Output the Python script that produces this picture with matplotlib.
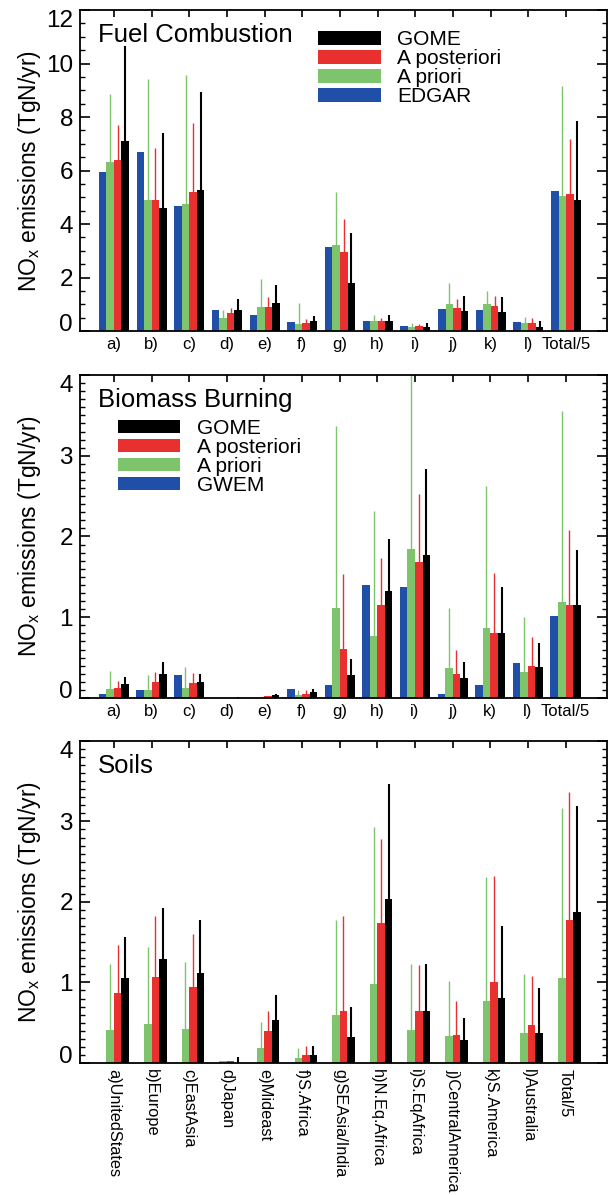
import matplotlib
matplotlib.use('Agg')
import matplotlib.pyplot as plt
import numpy as np
from matplotlib.patches import Patch
from matplotlib.ticker import MultipleLocator

plt.rcParams['font.family'] = ['Liberation Sans', 'DejaVu Sans']
plt.rcParams['mathtext.fontset'] = 'custom'
plt.rcParams['mathtext.rm'] = 'Liberation Sans'
plt.rcParams['mathtext.it'] = 'Liberation Sans:italic'

# ---------------- data ----------------
labels_short = ['a)', 'b)', 'c)', 'd)', 'e)', 'f)', 'g)', 'h)', 'i)', 'j)', 'k)', 'l)', 'Total/5']
labels_long = ['a)UnitedStates', 'b)Europe', 'c)EastAsia', 'd)Japan', 'e)Mideast', 'f)S.Africa',
               'g)SEAsia/India', 'h)N.Eq.Africa', 'i)S.EqAfrica', 'j)CentralAmerica',
               'k)S.America', 'l)Australia', 'Total/5']

# Fuel combustion (TgN/yr); *_top = upper end of error bar
fuel_edgar = [5.95, 6.69, 4.69, 0.79, 0.60, 0.35, 3.14, 0.39, 0.19, 0.82, 0.79, 0.35, 5.22]
fuel_apriori = [6.31, 4.90, 4.75, 0.50, 0.91, 0.25, 3.22, 0.37, 0.16, 1.00, 1.00, 0.29, 5.06]
fuel_apriori_top = [8.85, 9.41, 9.56, 0.79, 1.94, 1.04, 5.19, 0.60, 0.31, 1.79, 1.50, 0.54, 9.16]
fuel_apost = [6.40, 4.88, 5.19, 0.66, 0.91, 0.31, 2.96, 0.37, 0.19, 0.87, 0.94, 0.29, 5.12]
fuel_apost_top = [7.70, 6.85, 7.79, 0.85, 1.29, 0.44, 4.19, 0.50, 0.26, 1.19, 1.32, 0.47, 7.19]
fuel_gome = [7.10, 4.60, 5.28, 0.79, 1.06, 0.37, 1.81, 0.37, 0.16, 0.76, 0.70, 0.16, 4.91]
fuel_gome_top = [10.66, 7.39, 8.95, 1.19, 1.73, 0.56, 3.66, 0.60, 0.31, 1.31, 1.26, 0.37, 7.85]

# Biomass burning
bb_gwem = [0.054, 0.095, 0.29, 0.005, 0.003, 0.11, 0.158, 1.40, 1.38, 0.046, 0.166, 0.43, 1.01]
bb_apriori = [0.116, 0.095, 0.13, 0.005, 0.005, 0.04, 1.12, 0.77, 1.84, 0.37, 0.87, 0.32, 1.19]
bb_apriori_top = [0.34, 0.28, 0.39, 0.01, 0.01, 0.095, 3.37, 2.32, 4.30, 1.12, 2.62, 1.00, 3.55]
bb_apost = [0.124, 0.20, 0.18, 0.005, 0.02, 0.054, 0.61, 1.15, 1.69, 0.30, 0.81, 0.40, 1.15]
bb_apost_top = [0.21, 0.32, 0.31, 0.01, 0.03, 0.095, 1.54, 1.73, 2.53, 0.60, 1.55, 0.76, 2.08]
bb_gome = [0.178, 0.30, 0.20, 0.005, 0.04, 0.08, 0.29, 1.32, 1.77, 0.25, 0.81, 0.38, 1.15]
bb_gome_top = [0.26, 0.45, 0.30, 0.01, 0.05, 0.116, 0.48, 1.97, 2.83, 0.45, 1.38, 0.68, 1.83]

# Soils
soil_apriori = [0.41, 0.48, 0.42, 0.02, 0.18, 0.06, 0.59, 0.98, 0.41, 0.34, 0.77, 0.37, 1.06]
soil_apriori_top = [1.23, 1.44, 1.26, 0.02, 0.51, 0.19, 1.77, 2.93, 1.23, 1.02, 2.31, 1.11, 3.17]
soil_apost = [0.87, 1.07, 0.94, 0.02, 0.40, 0.10, 0.65, 1.74, 0.64, 0.35, 1.01, 0.47, 1.78]
soil_apost_top = [1.47, 1.82, 1.60, 0.03, 0.64, 0.21, 1.82, 2.78, 1.22, 0.77, 2.32, 1.08, 3.37]
soil_gome = [1.05, 1.29, 1.12, 0.0, 0.53, 0.10, 0.32, 2.04, 0.65, 0.29, 0.81, 0.37, 1.88]
soil_gome_top = [1.56, 1.93, 1.77, 0.08, 0.85, 0.21, 0.70, 3.46, 1.23, 0.56, 1.70, 0.93, 3.19]

BLUE = '#1f4fa6'
GREEN = '#7dc46d'
RED = '#e8302e'
BLACK = '#000000'

W = 0.2
OFFS = [-1.5 * W, -0.5 * W, 0.5 * W, 1.5 * W]

fig = plt.figure(figsize=(6.13, 11.95), dpi=100)
rects = [
    [0.1305, 0.7230, 0.860, 0.2686],
    [0.1305, 0.4159, 0.859, 0.2703],
    [0.1305, 0.1105, 0.859, 0.2695],
]
x = np.arange(len(labels_short))
axes = []


def draw_panel(ax, series, ymax, major, minor, title, xlabels, rotate):
    for k, (vals, top, col, lw) in enumerate(series):
        if vals is None:
            continue
        ax.bar(x + OFFS[k], vals, width=W, color=col, linewidth=0, zorder=2)
        if top is not None:
            ax.vlines(x + OFFS[k], vals, top, color=col, lw=lw, zorder=2)
    ax.set_xlim(-0.9, 13.09)
    ax.set_ylim(0, ymax)
    ax.yaxis.set_major_locator(MultipleLocator(major))
    ax.yaxis.set_minor_locator(MultipleLocator(minor))
    ax.set_xticks(x)
    if rotate:
        ax.set_xticklabels(xlabels, rotation=270, fontsize=11.8, va='top', ha='center')
    else:
        ax.set_xticklabels(xlabels, fontsize=12)
    ax.tick_params(axis='x', which='both', direction='in', top=True, bottom=False,
                   length=5, width=1.2, pad=4)
    ax.tick_params(axis='y', which='major', direction='in', left=True, right=True,
                   length=7.2, width=1.2, labelsize=17.5, pad=5)
    ax.tick_params(axis='y', which='minor', direction='in', left=True, right=True,
                   length=3.6, width=1.0)
    for s in ax.spines.values():
        s.set_linewidth(1.3)
    ax.set_ylabel('NO$_\\mathrm{x}$ emissions (TgN/yr)', fontsize=16.5)
    ax.yaxis.set_label_coords(-0.07, 0.5)
    ax.text(0.034, 0.922, title, transform=ax.transAxes, fontsize=18.5,
            ha='left', va='center')
    axes.append(ax)


ax1 = fig.add_axes(rects[0])
draw_panel(ax1, [(fuel_edgar, None, BLUE, 1.0),
                 (fuel_apriori, fuel_apriori_top, GREEN, 1.0),
                 (fuel_apost, fuel_apost_top, RED, 1.0),
                 (fuel_gome, fuel_gome_top, BLACK, 1.5)],
           12, 2, 0.5, 'Fuel Combustion', labels_short, False)

ax2 = fig.add_axes(rects[1])
draw_panel(ax2, [(bb_gwem, None, BLUE, 1.0),
                 (bb_apriori, bb_apriori_top, GREEN, 1.0),
                 (bb_apost, bb_apost_top, RED, 1.0),
                 (bb_gome, bb_gome_top, BLACK, 1.5)],
           4, 1, 0.1, 'Biomass Burning', labels_short, False)

ax3 = fig.add_axes(rects[2])
draw_panel(ax3, [(None, None, BLUE, 1.0),
                 (soil_apriori, soil_apriori_top, GREEN, 1.0),
                 (soil_apost, soil_apost_top, RED, 1.0),
                 (soil_gome, soil_gome_top, BLACK, 1.5)],
           4, 1, 0.1, 'Soils', labels_long, True)


def add_legend(ax, names, anchor):
    handles = [Patch(facecolor=c, edgecolor='none') for c in [BLACK, RED, GREEN, BLUE]]
    ax.legend(handles, names, loc='upper left', bbox_to_anchor=anchor, frameon=False,
              fontsize=15, handlelength=3.0, handleheight=0.62, handletextpad=0.8,
              labelspacing=0.0, borderpad=0, borderaxespad=0)


add_legend(ax1, ['GOME', 'A posteriori', 'A priori', 'EDGAR'], (0.452, 0.937))
add_legend(ax2, ['GOME', 'A posteriori', 'A priori', 'GWEM'], (0.072, 0.865))

# nudge the end tick labels inside the axes (as in the original)
fig.canvas.draw()
for ax in axes:
    lo, hi = ax.get_ylim()
    for tick in ax.yaxis.get_major_ticks():
        v = tick.get_loc()
        if abs(v - lo) < 1e-9:
            tick.label1.set_va('baseline')
        elif abs(v - hi) < 1e-9:
            tick.label1.set_va('top')

fig.savefig('out.png', dpi=100)
